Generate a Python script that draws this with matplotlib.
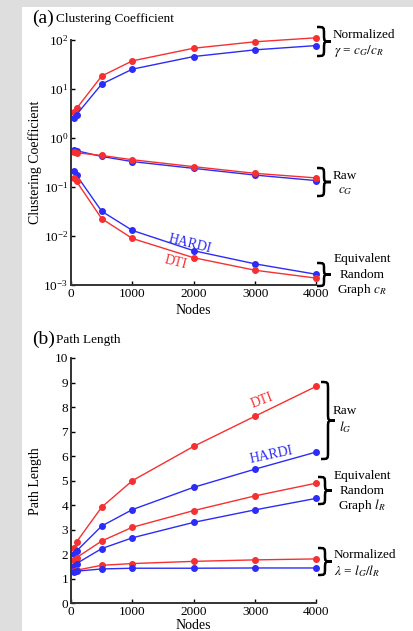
import matplotlib
matplotlib.use("Agg")
import matplotlib.pyplot as plt
from matplotlib.patches import Rectangle, PathPatch
from matplotlib.path import Path
from matplotlib.transforms import IdentityTransform
import matplotlib.ticker as mticker

plt.rcParams["font.family"] = ["Liberation Serif", "DejaVu Serif"]
plt.rcParams["mathtext.fontset"] = "stix"

nodes = [55, 90, 500, 1000, 2000, 3000, 4000]

# (a) clustering coefficient
norm_dti = [3.35, 4.0, 18.4, 37.5, 68, 92, 111]
norm_hardi = [2.6, 3.0, 12.6, 25.4, 46, 63, 77]
raw_dti = [0.53, 0.50, 0.44, 0.36, 0.26, 0.19, 0.153]
raw_hardi = [0.58, 0.55, 0.42, 0.33, 0.24, 0.175, 0.135]
rand_dti = [0.155, 0.13, 0.0226, 0.0089, 0.0036, 0.0020, 0.00138]
rand_hardi = [0.21, 0.174, 0.032, 0.013, 0.0050, 0.0027, 0.00165]

# (b) path length
lraw_dti = [2.27, 2.50, 3.92, 5.0, 6.40, 7.63, 8.85]
lraw_hardi = [2.0, 2.13, 3.15, 3.82, 4.73, 5.47, 6.17]
lrand_dti = [1.76, 1.86, 2.54, 3.10, 3.78, 4.38, 4.90]
lrand_hardi = [1.51, 1.62, 2.23, 2.67, 3.30, 3.81, 4.28]
lnorm_dti = [1.31, 1.35, 1.55, 1.62, 1.71, 1.77, 1.81]
lnorm_hardi = [1.28, 1.31, 1.40, 1.43, 1.43, 1.44, 1.44]

RED = "#f63030"
BLUE = "#2c2cf6"
W, H = 414, 631

fig = plt.figure(figsize=(W / 100, H / 100), dpi=100)
fig.patch.set_facecolor("#dedede")
fig.add_artist(Rectangle((22 / W, 0), 1, 1 - 7 / H, transform=fig.transFigure,
                         facecolor="white", edgecolor="none", zorder=-10))


def fx(px):
    return px / W


def fy(py):
    return 1 - py / H


ax1 = fig.add_axes([fx(71), fy(285), fx(316.5) - fx(71), fy(40) - fy(285)])
ax2 = fig.add_axes([fx(71), fy(603.3), fx(316.5) - fx(71), fy(358) - fy(603.3)])

for ax in (ax1, ax2):
    ax.set_facecolor("none")
    for s in ("top", "right"):
        ax.spines[s].set_visible(False)
    for s in ("left", "bottom"):
        ax.spines[s].set_linewidth(1.4)
        ax.spines[s].set_color("#333333")
    ax.tick_params(direction="in", length=3, width=1, labelsize=9.5, pad=2)
    ax.set_xlim(0, 4000)
    ax.set_xticks([0, 1000, 2000, 3000, 4000])

kw = dict(marker="o", markersize=4, linewidth=1.0, clip_on=False)
for y, c in [(norm_dti, RED), (norm_hardi, BLUE), (raw_hardi, BLUE), (raw_dti, RED),
             (rand_hardi, BLUE), (rand_dti, RED)]:
    ax1.plot(nodes, y, color=c, **kw)
ax1.set_yscale("log")
ax1.set_ylim(1e-3, 1e2)
ax1.yaxis.set_major_locator(mticker.LogLocator(base=10, numticks=10))
ax1.yaxis.set_minor_locator(mticker.NullLocator())
ax1.set_xlabel("Nodes", fontsize=10, labelpad=3)
ax1.set_ylabel("Clustering Coefficient", fontsize=10)
ax1.yaxis.set_label_coords((42 - 71) / 245.5, 0.5)

for y, c in [(lraw_dti, RED), (lraw_hardi, BLUE), (lrand_dti, RED), (lrand_hardi, BLUE),
             (lnorm_dti, RED), (lnorm_hardi, BLUE)]:
    ax2.plot(nodes, y, color=c, **kw)
ax2.set_ylim(0, 10)
ax2.set_yticks(range(0, 11))
ax2.set_xlabel("Nodes", fontsize=10, labelpad=0.5)
ax2.set_ylabel("Path Length", fontsize=10)
ax2.yaxis.set_label_coords((42 - 71) / 245.5, 0.5)

# panel titles
fig.text(fx(32), fy(18), "(a)", fontsize=14, va="center", ha="left")
fig.text(fx(56), fy(19), "Clustering Coefficient", fontsize=9.5, va="center", ha="left")
fig.text(fx(32), fy(339), "(b)", fontsize=14, va="center", ha="left")
fig.text(fx(56), fy(340), "Path Length", fontsize=9.5, va="center", ha="left")

# series labels
fig.text(fx(190), fy(244), "HARDI", color=BLUE, fontsize=10, rotation=-14, ha="center", va="center")
fig.text(fx(175), fy(262), "DTI", color=RED, fontsize=10, rotation=-14, ha="center", va="center")
fig.text(fx(262), fy(401), "DTI", color=RED, fontsize=10, rotation=21, ha="center", va="center")
fig.text(fx(271), fy(455), "HARDI", color=BLUE, fontsize=10, rotation=12, ha="center", va="center")


def brace(x0, ytop, ybot, w=14):
    # curly brace in pixel coords (y measured from top)
    y1 = H - ytop
    y0 = H - ybot
    ym = (y0 + y1) / 2
    xm = x0 + w / 2
    r = min(w / 2, (y1 - y0) / 4)
    verts = [(x0, y1),
             (xm, y1), (xm, y1), (xm, y1 - r),
             (xm, ym + r),
             (xm, ym), (xm, ym), (x0 + w, ym),
             (xm, ym), (xm, ym), (xm, ym - r),
             (xm, y0 + r),
             (xm, y0), (xm, y0), (x0, y0)]
    codes = [Path.MOVETO,
             Path.CURVE4, Path.CURVE4, Path.CURVE4,
             Path.LINETO,
             Path.CURVE4, Path.CURVE4, Path.CURVE4,
             Path.CURVE4, Path.CURVE4, Path.CURVE4,
             Path.LINETO,
             Path.CURVE4, Path.CURVE4, Path.CURVE4]
    fig.add_artist(PathPatch(Path(verts, codes), transform=IdentityTransform(),
                             facecolor="none", edgecolor="black", linewidth=1.8))


tkw = dict(fontsize=9.5, va="center")
brace(317, 27, 56)
fig.text(fx(333), fy(35), "Normalized", ha="left", **tkw)
fig.text(fx(334), fy(51), r"$\gamma$ = $c_G/c_R$", ha="left", **tkw)

brace(317, 168, 196)
fig.text(fx(345), fy(176), "Raw", ha="center", **tkw)
fig.text(fx(345), fy(191), r"$c_G$", ha="center", **tkw)

brace(317, 263, 286)
fig.text(fx(362), fy(259), "Equivalent", ha="center", **tkw)
fig.text(fx(362), fy(275), "Random", ha="center", **tkw)
fig.text(fx(362), fy(290), r"Graph $c_R$", ha="center", **tkw)

brace(321, 382, 459)
fig.text(fx(345), fy(411), "Raw", ha="center", **tkw)
fig.text(fx(345), fy(427), r"$l_G$", ha="center", **tkw)

brace(318, 477, 504)
fig.text(fx(362), fy(476), "Equivalent", ha="center", **tkw)
fig.text(fx(362), fy(491), "Random", ha="center", **tkw)
fig.text(fx(362), fy(506), r"Graph $l_R$", ha="center", **tkw)

brace(318, 548, 575)
fig.text(fx(334), fy(555), "Normalized", ha="left", **tkw)
fig.text(fx(334), fy(571), r"$\lambda$ = $l_G/l_R$", ha="left", **tkw)

fig.savefig("out.png", dpi=100, facecolor=fig.get_facecolor())
